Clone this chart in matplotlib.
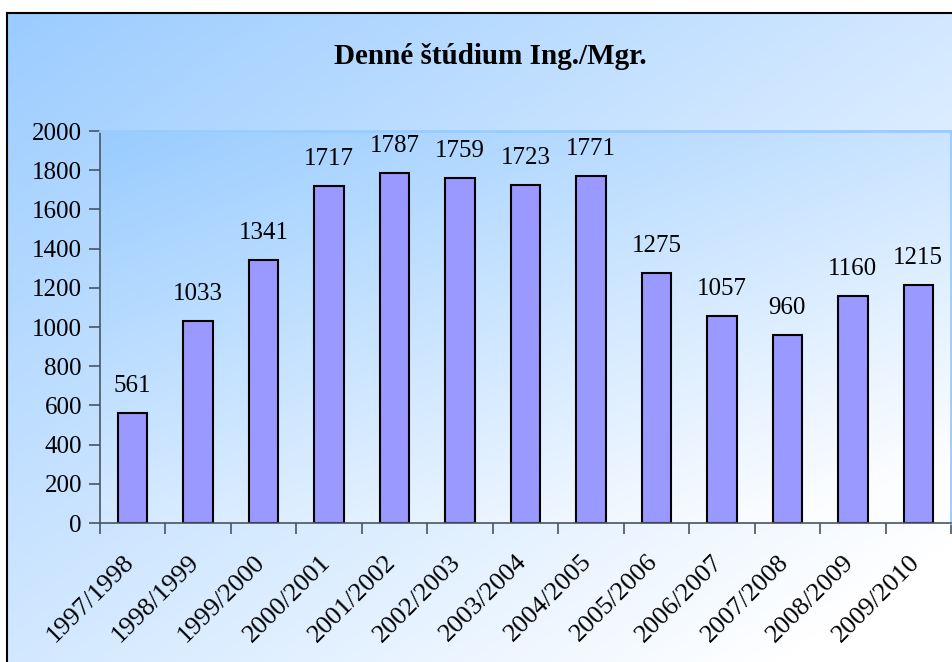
import matplotlib
matplotlib.use('Agg')
import matplotlib.pyplot as plt
import matplotlib.transforms as mtransforms
import numpy as np

years = ['1997/1998', '1998/1999', '1999/2000', '2000/2001', '2001/2002',
         '2002/2003', '2003/2004', '2004/2005', '2005/2006', '2006/2007',
         '2007/2008', '2008/2009', '2009/2010']
students = [561, 1033, 1341, 1717, 1787, 1759, 1723, 1771, 1275, 1057, 960, 1160, 1215]
y_ticks = [0, 200, 400, 600, 800, 1000, 1200, 1400, 1600, 1800, 2000]
title = 'Denné štúdium Ing./Mgr.'

plt.rcParams['font.family'] = ['Liberation Serif', 'DejaVu Serif']

W, H = 953, 662
fig = plt.figure(figsize=(W / 100, H / 100), dpi=100)
fig.patch.set_facecolor('white')


def gradient(c0, c1, n=200, wx=0.5, wy=0.5):
    u = np.linspace(0, 1, n)
    xx, yy = np.meshgrid(u, u)
    t = np.clip(wx * xx + wy * yy, 0, 1)[..., None]
    c0 = np.array(c0) / 255.0
    c1 = np.array(c1) / 255.0
    return c0 + (c1 - c0) * t


# figure background (chart area) with a black frame on top and left
bg = fig.add_axes([7 / W, 0, 1 - 7 / W, (H - 13) / H])
bg.imshow(gradient((155, 204, 255), (255, 255, 255), wx=0.55, wy=0.55),
          aspect='auto', extent=[0, 1, 0, 1], origin='upper')
bg.set_xlim(0, 1)
bg.set_ylim(0, 1)
bg.set_xticks([])
bg.set_yticks([])
for s in ['right', 'bottom']:
    bg.spines[s].set_visible(False)
for s in ['top', 'left']:
    bg.spines[s].set_color('black')
    bg.spines[s].set_linewidth(1.5)

fig.text(490 / W, 1 - 56 / H, title, ha='center', va='center',
         fontsize=21, fontweight='bold')

# plot area
ax = fig.add_axes([100 / W, 139 / H, 851 / W, 392 / H])
ax.imshow(gradient((153, 204, 255), (252, 253, 255), wx=0.5, wy=0.6),
          aspect='auto', extent=[0, 1, 0, 1], origin='upper',
          transform=ax.transAxes, zorder=0)

x = np.arange(len(years))
ax.bar(x, students, width=0.45, color='#9999ff', edgecolor='black',
       linewidth=1.5, zorder=2)
for xi, v in zip(x, students):
    ax.annotate(str(v), (xi, v), xytext=(0, 16), textcoords='offset pixels',
                ha='center', va='bottom', fontsize=18)

ax.set_xlim(-0.5, len(years) - 0.5)
ax.set_ylim(0, 2000)
ax.set_yticks(y_ticks)
ax.tick_params(axis='y', labelsize=18, direction='out', length=8,
               width=1.2, color='#4a5560', pad=5)

ax.set_xticks(x)
ax.set_xticklabels(years, rotation=45, ha='right', rotation_mode='anchor',
                   fontsize=19)
ax.tick_params(axis='x', which='major', length=0, pad=20)
shift = mtransforms.ScaledTranslation(-10 / 100, 0, fig.dpi_scale_trans)
for lbl in ax.get_xticklabels():
    lbl.set_transform(lbl.get_transform() + shift)
ax.set_xticks(np.arange(len(years) + 1) - 0.5, minor=True)
ax.tick_params(axis='x', which='minor', direction='out', length=8,
               width=1.2, color='#4a5560')

for s in ['left', 'bottom']:
    ax.spines[s].set_color('#4a5560')
    ax.spines[s].set_linewidth(1.2)
for s in ['top', 'right']:
    ax.spines[s].set_color('#99ccff')
    ax.spines[s].set_linewidth(2)

fig.savefig('out.png', dpi=100)
